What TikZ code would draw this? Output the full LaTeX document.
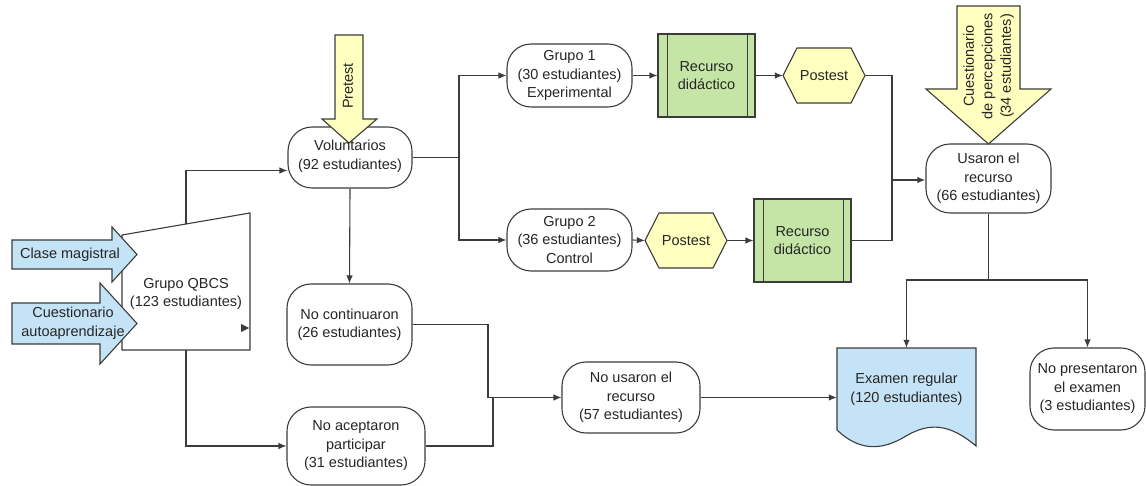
\documentclass[tikz,border=0pt]{standalone}
\usepackage{fontspec}
\setmainfont{Liberation Sans}
\usetikzlibrary{arrows.meta}
\definecolor{lineC}{HTML}{3C3C3C}
\definecolor{blueF}{HTML}{C4E3F6}
\definecolor{yelF}{HTML}{FFFFC0}
\definecolor{greenF}{HTML}{C4E5A5}
\begin{document}
\begin{tikzpicture}[x=1pt,y=-1pt,
  font=\fontsize{14.5}{18.5}\selectfont,
  every node/.style={inner sep=0pt,align=center,text=black!85},
  conn/.style={draw=lineC,line width=1.1pt},
  arr/.style={conn,-{Latex[length=8pt,width=6.5pt]}},
  shapeline/.style={draw=lineC,line width=1.1pt,line join=miter},
  term/.style={draw=lineC,fill=white,line width=1.1pt,rounded corners=24pt},
  recbox/.style={draw=lineC,fill=greenF,line width=1.1pt,minimum width=97pt,minimum height=83pt},
  hexbox/.style={minimum width=82pt,minimum height=55pt}
]
\useasboundingbox (0,0) rectangle (1146,486);

% ---------- Grupo QBCS (manual input) ----------
\coordinate (qa) at (122,235);
\coordinate (qb) at (250,213);
\coordinate (qc) at (250,350);
\coordinate (qd) at (122,350);
\draw[shapeline,fill=white] (qa) -- (qb) -- (qc) -- (qd) -- cycle;
\node (qbcs) at (186,294) {Grupo QBCS\\(123 estudiantes)};
\coordinate (qtop) at (186,224);
\coordinate (qbot) at (186,350);
\fill[lineC] (241,324) -- (249,328) -- (241,332) -- cycle;

% ---------- input arrows ----------
\draw[shapeline,fill=blueF] (12,240) -- (112,240) -- (112,227) -- (137,254.5) -- (112,282) -- (112,269) -- (12,269) -- cycle;
\node (clase) at (70,254.5) {Clase magistral};
\draw[shapeline,fill=blueF] (12,303) -- (100,303) -- (100,283) -- (137,323.5) -- (100,364) -- (100,344) -- (12,344) -- cycle;
\node (cuest) at (73,323.5) {Cuestionario\\autoaprendizaje};

% ---------- Voluntarios + Pretest ----------
\node[term,minimum width=124pt,minimum height=61pt] (vol) at (350,157.5) {};
\draw[shapeline,fill=yelF] (335,35) -- (363,35) -- (363,119) -- (377,119) -- (349,143) -- (322,119) -- (335,119) -- cycle;
\node[rotate=90] (pretest) at (348,86) {Pretest};
\node (voltext) at (350,156) {Voluntarios\\(92 estudiantes)};

% ---------- groups ----------
\node[term,minimum width=125pt,minimum height=63pt] (g1) at (569.5,75.5) {Grupo 1\\(30 estudiantes)\\Experimental};
\node[term,minimum width=125pt,minimum height=62pt] (g2) at (569.5,240) {Grupo 2\\(36 estudiantes)\\Control};

\node[recbox] (rd1) at (706.5,75.5) {Recurso\\did\'actico};
\draw[conn] ([xshift=10pt]rd1.north west) -- ([xshift=10pt]rd1.south west);
\draw[conn] ([xshift=-8pt]rd1.north east) -- ([xshift=-8pt]rd1.south east);

\node[recbox] (rd2) at (802.5,240.5) {Recurso\\did\'actico};
\draw[conn] ([xshift=10pt]rd2.north west) -- ([xshift=10pt]rd2.south west);
\draw[conn] ([xshift=-8pt]rd2.north east) -- ([xshift=-8pt]rd2.south east);

\draw[shapeline,fill=yelF] (783,75.5) -- (797,48) -- (851,48) -- (865,75.5) -- (851,103) -- (797,103) -- cycle;
\node[hexbox] (pt1) at (824,75.5) {Postest};
\draw[shapeline,fill=yelF] (645,240.5) -- (659,213) -- (713,213) -- (727,240.5) -- (713,268) -- (659,268) -- cycle;
\node[hexbox] (pt2) at (686,240.5) {Postest};

% ---------- Usaron + percepciones ----------
\node[term,minimum width=125pt,minimum height=69pt] (usa) at (988.5,178.5) {Usaron el\\recurso\\(66 estudiantes)};
\draw[shapeline,fill=yelF] (957,6) -- (1020,6) -- (1020,89) -- (1051,89) -- (988.5,144) -- (926,89) -- (957,89) -- cycle;
\node[rotate=90] (percep) at (988.5,66) {Cuestionario\\de percepciones\\(34 estudiantes)};

% ---------- lower nodes ----------
\node[term,minimum width=125pt,minimum height=81pt] (nocont) at (349.5,324.5) {No continuaron\\(26 estudiantes)};
\node[term,minimum width=138pt,minimum height=78pt] (noacep) at (356,446) {No aceptaron\\participar\\(31 estudiantes)};
\node[term,minimum width=138pt,minimum height=71pt] (nousa) at (631,397.5) {No usaron el\\recurso\\(57 estudiantes)};
\node[term,minimum width=115pt,minimum height=82pt] (nopres) at (1087.5,389) {No presentaron\\el examen\\(3 estudiantes)};

% Examen regular (document)
\draw[shapeline,fill=blueF] (837,348) -- (976,348) -- (976,446)
  .. controls (950,424) and (930,422) .. (906,436)
  .. controls (880,452) and (858,450) .. (837,430) -- cycle;
\node[minimum width=139pt,minimum height=82pt] (exam) at (906.5,389) {Examen regular\\(120 estudiantes)};

% ---------- connectors ----------
\draw[arr] (qtop) |- ([yshift=-13pt]vol.west);
\draw[arr] (qbot) |- (noacep.west);
\coordinate (s1) at (459,157.5);
\draw[conn] (vol.east) -- (s1);
\draw[arr] (s1) |- (g1.west);
\draw[arr] (s1) |- (g2.west);
\draw[arr] (vol.south) -- (nocont.north);

\draw[arr] (g1.east) -- (rd1.west);
\draw[arr] (rd1.east) -- (pt1.west);
\draw[arr] (g2.east) -- (pt2.west);
\draw[arr] (pt2.east) -- (rd2.west);

\coordinate (s2) at (892,180);
\draw[conn] (pt1.east) -| (s2);
\draw[conn] (rd2.east) -| (s2);
\draw[arr,line width=1.5pt] (s2) -- (usa.west |- s2);

\coordinate (s3) at (988.5,280);
\draw[conn] (usa.south) -- (s3);
\draw[arr] (s3) -| (exam.north);
\draw[arr] (s3) -| (nopres.north);

\coordinate (s4) at (488,397.5);
\draw[conn] (nocont.east) -| (s4);
\draw[conn] (noacep.east) -| (493,397.5) -- (s4);
\draw[arr] (s4) -- (nousa.west);
\draw[arr] (nousa.east) -- (exam.west |- nousa.east);
\end{tikzpicture}
\end{document}
